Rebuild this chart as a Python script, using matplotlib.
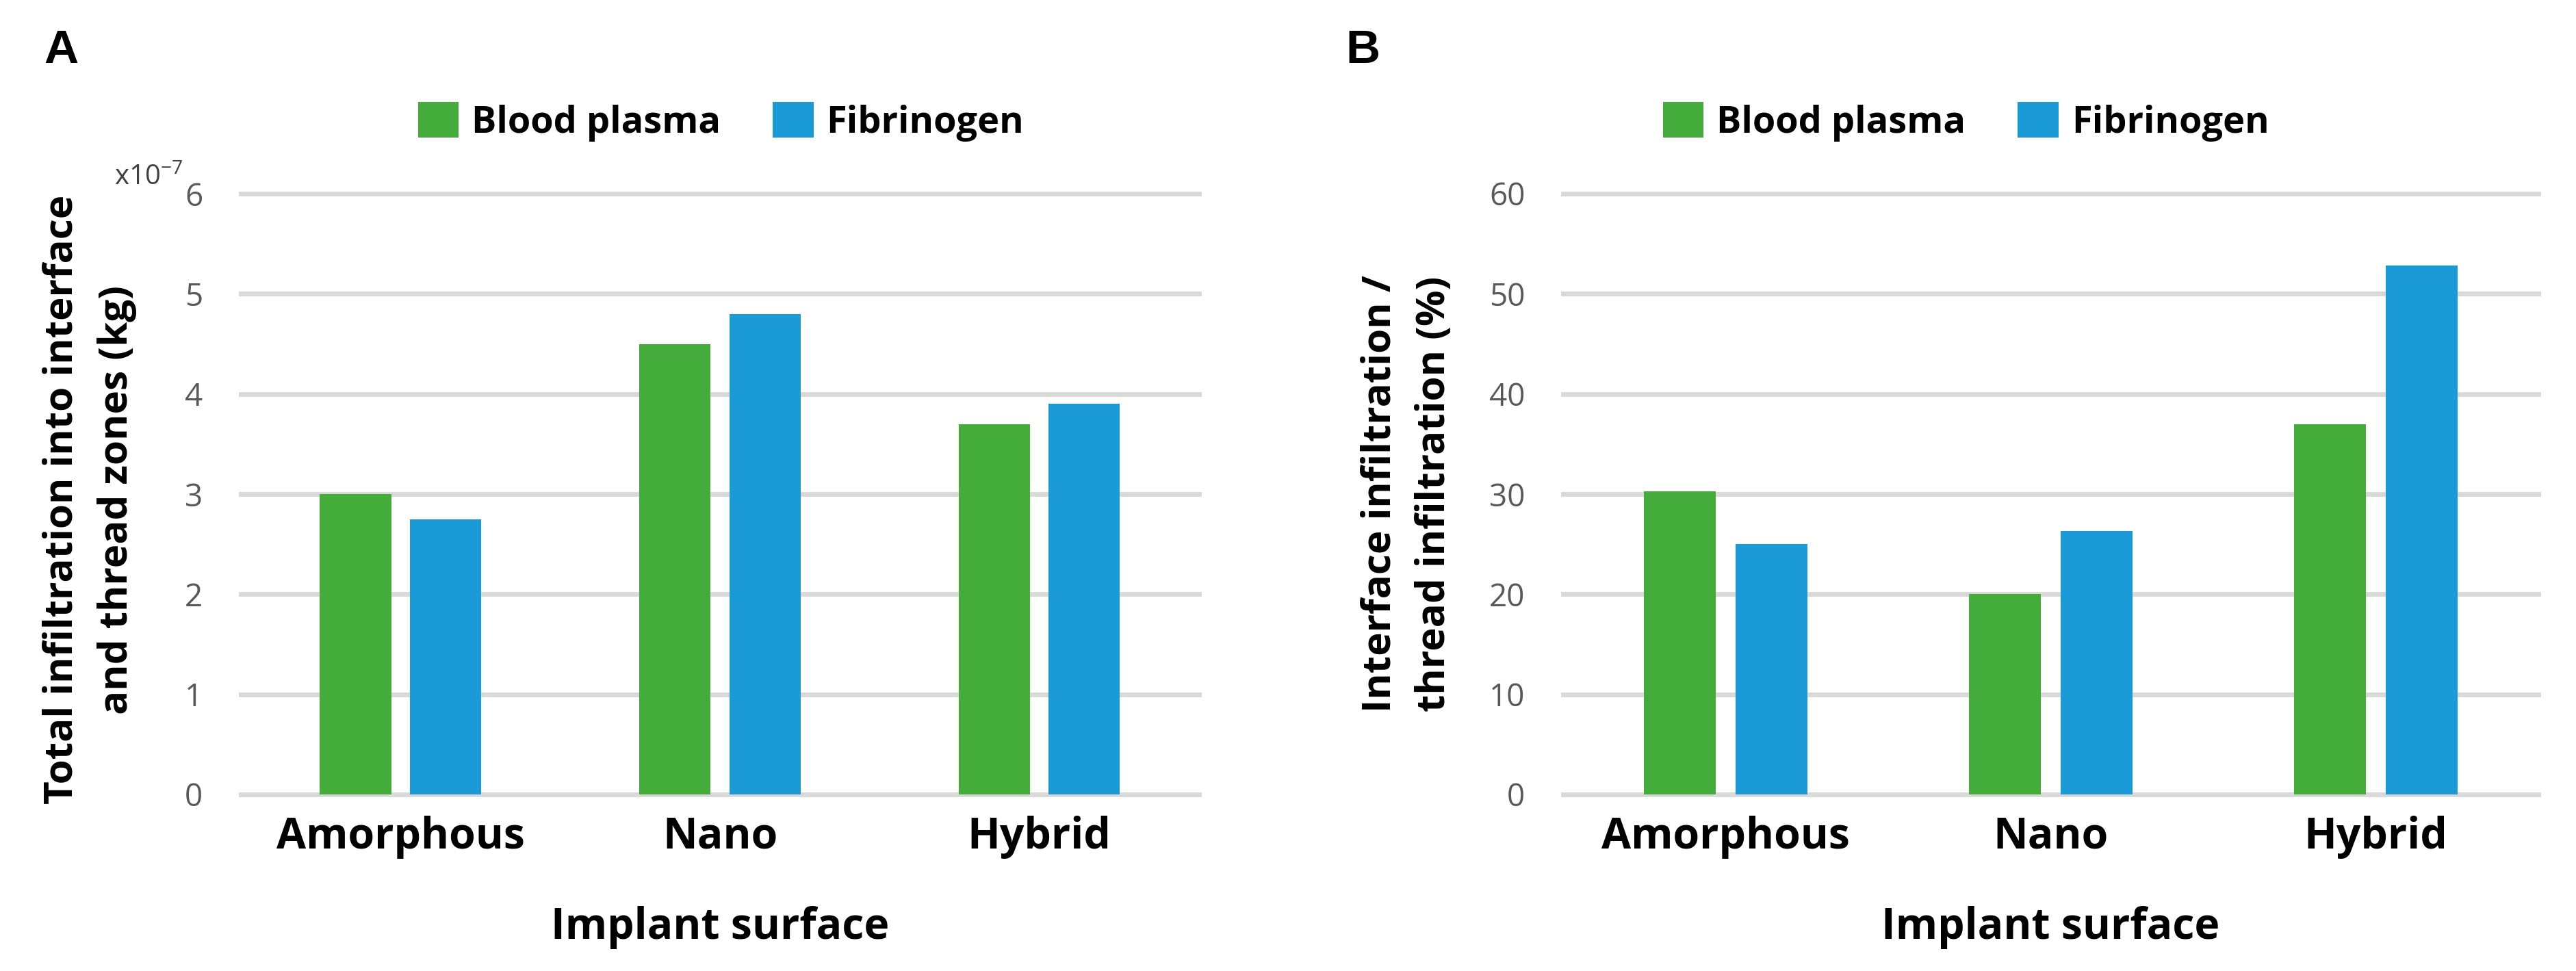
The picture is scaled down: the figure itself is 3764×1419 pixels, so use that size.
import numpy as np
import matplotlib
matplotlib.use("Agg")
import matplotlib.pyplot as plt

# ---------------- data ----------------
surfaces = ["Amorphous", "Nano", "Hybrid"]
series = ["Blood plasma", "Fibrinogen"]

# panel A: total infiltration (x1e-7 kg)
total_plasma = [3.0, 4.5, 3.7]
total_fibrinogen = [2.75, 4.8, 3.9]

# panel B: interface / thread infiltration (%)
ratio_plasma = [30.3, 20.0, 37.0]
ratio_fibrinogen = [25.0, 26.3, 52.8]

a_ticks = [0, 1, 2, 3, 4, 5, 6]
b_ticks = [0, 10, 20, 30, 40, 50, 60]

# ---------------- style ----------------
green = "#43AC3B"
blue = "#1A9AD6"
grid_col = "#D9D9D9"
tick_col = "#595959"
W, H = 3764, 1419

plt.rcParams["font.family"] = ["Open Sans", "DejaVu Sans"]

fig = plt.figure(figsize=(W / 100, H / 100), dpi=100)
fig.patch.set_facecolor("white")


def px(x, y):
    # pixel position -> figure fraction
    return x / W, 1 - y / H


def make_panel(left_px, right_px, vals1, vals2, ticks, legend_x):
    x0, _ = px(left_px, 0)
    x1, _ = px(right_px, 0)
    _, yb = px(0, 1161)
    _, yt = px(0, 283)
    ax = fig.add_axes([x0, yb, x1 - x0, yt - yb])
    x = np.arange(len(surfaces))
    w = 0.223
    off = 0.141
    ax.bar(x - off, vals1, w, color=green, label=series[0], zorder=3)
    ax.bar(x + off, vals2, w, color=blue, label=series[1], zorder=3)
    ax.set_xlim(-0.5, len(surfaces) - 0.5)
    ax.set_ylim(ticks[0], ticks[-1])
    ax.set_yticks(ticks)
    ax.set_yticklabels([str(t) for t in ticks])
    ax.set_xticks(x)
    ax.set_xticklabels(surfaces, fontsize=45, fontweight="bold", color="black")
    for t in ticks:
        ax.axhline(t, color=grid_col, lw=5, zorder=1, clip_on=False)
    for s in ax.spines.values():
        s.set_visible(False)
    ax.tick_params(axis="y", length=0, pad=40, labelsize=33, labelcolor=tick_col)
    ax.tick_params(axis="x", length=0, pad=22)
    ax.set_xlabel("Implant surface", fontsize=45, fontweight="bold", labelpad=50)
    ax.legend(loc="center", bbox_to_anchor=(legend_x, 1 + 105 / 878), ncol=2,
              frameon=False, prop={"weight": "bold", "size": 39},
              handlelength=1.1, handleheight=1.1, handletextpad=0.35,
              columnspacing=1.4)
    return ax


axA = make_panel(352, 1752, total_plasma, total_fibrinogen, a_ticks, 0.501)
axB = make_panel(2284, 3709, ratio_plasma, ratio_fibrinogen, b_ticks, 0.413)

# scale factor note for panel A
fig.text(*px(167, 270), r"x10$^{\mathregular{-7}}$", fontsize=29, color="#404040",
         ha="left", va="baseline")

# y labels (two lines each)
fig.text(*px(131, 730), "Total infiltration into interface\nand thread zones (kg)",
         rotation=90, ha="center", va="center", fontsize=42, fontweight="bold",
         linespacing=1.5)
fig.text(*px(2056, 722), "Interface infiltration /\nthread infiltration (%)",
         rotation=90, ha="center", va="center", fontsize=42, fontweight="bold",
         linespacing=1.5)

# panel letters
fig.text(*px(64, 74), "A", fontsize=50, fontweight="bold", family="Liberation Sans",
         ha="left", va="center")
fig.text(*px(1966, 74), "B", fontsize=50, fontweight="bold", family="Liberation Sans",
         ha="left", va="center")

fig.savefig("out.png", dpi=100, facecolor="white")
